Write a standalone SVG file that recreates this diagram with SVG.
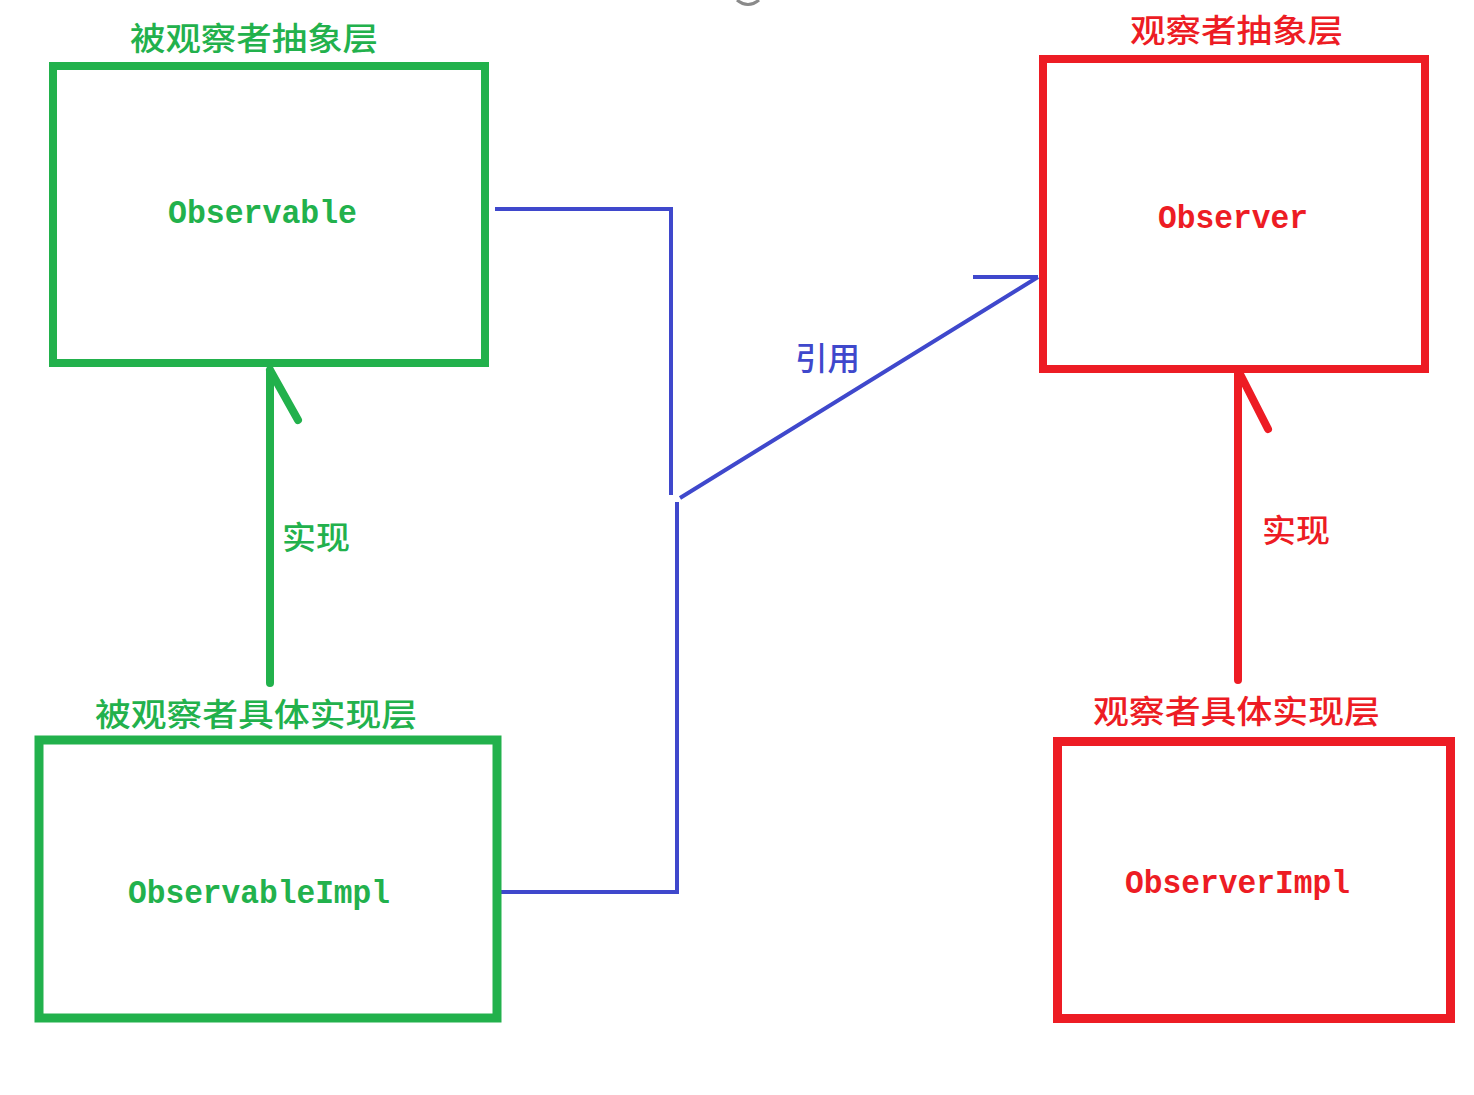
<svg xmlns="http://www.w3.org/2000/svg" width="1474" height="1095" viewBox="0 0 1474 1095">
<style>
.g{stroke:#22b14c;fill:none}
.r{stroke:#ed1c24;fill:none}
.b{stroke:#3f48cc;fill:none;stroke-width:4}
.cjk{font-family:"Noto Sans CJK SC",sans-serif;font-size:32px;font-weight:500}
.mono{font-family:"Liberation Mono",monospace;font-size:33px;font-weight:bold}
.tg{fill:#22b14c}
.tr{fill:#ed1c24}
.tb{fill:#3f48cc}
</style>
<rect width="1474" height="1095" fill="#ffffff"/>
<path d="M737 0 Q748 9 759 0" stroke="#8a8a8a" stroke-width="3" fill="none"/>
<g id="connectors">
<path class="g" stroke-width="8" d="M270 683 V370 M270 370 L298 420" stroke-linecap="round"/>
<path class="r" stroke-width="8" d="M1238 680 V372 M1239 372 L1268 429" stroke-linecap="round"/>
<path class="b" d="M495 209 H671 V495"/>
<path class="b" d="M500 892 H677 V502"/>
<path class="b" d="M680 498 L1038 277 M973 277 H1038"/>
<text class="cjk tb" x="795" y="370" textLength="65" lengthAdjust="spacingAndGlyphs">引用</text>
<text class="cjk tg" x="282" y="549" textLength="68" lengthAdjust="spacingAndGlyphs">实现</text>
<text class="cjk tr" x="1262" y="542" textLength="68" lengthAdjust="spacingAndGlyphs">实现</text>
</g>
<g id="observable">
<rect class="g" stroke-width="8" x="53" y="66" width="432" height="297"/>
<text class="cjk tg" x="130" y="50" textLength="248" lengthAdjust="spacingAndGlyphs">被观察者抽象层</text>
<text class="mono tg" x="168" y="223" textLength="189" lengthAdjust="spacingAndGlyphs">Observable</text>
</g>
<g id="observer">
<rect class="r" stroke-width="8" x="1043" y="59" width="382" height="310"/>
<text class="cjk tr" x="1130" y="42" textLength="213" lengthAdjust="spacingAndGlyphs">观察者抽象层</text>
<text class="mono tr" x="1158" y="228" textLength="150" lengthAdjust="spacingAndGlyphs">Observer</text>
</g>
<g id="observableImpl">
<rect class="g" stroke-width="9" x="39" y="740" width="458" height="278"/>
<text class="cjk tg" x="95" y="726" textLength="322" lengthAdjust="spacingAndGlyphs">被观察者具体实现层</text>
<text class="mono tg" x="128" y="903" textLength="262" lengthAdjust="spacingAndGlyphs">ObservableImpl</text>
</g>
<g id="observerImpl">
<rect class="r" stroke-width="9" x="1057.5" y="741.5" width="393" height="277"/>
<text class="cjk tr" x="1093" y="723" textLength="287" lengthAdjust="spacingAndGlyphs">观察者具体实现层</text>
<text class="mono tr" x="1125" y="893" textLength="225" lengthAdjust="spacingAndGlyphs">ObserverImpl</text>
</g>
</svg>
